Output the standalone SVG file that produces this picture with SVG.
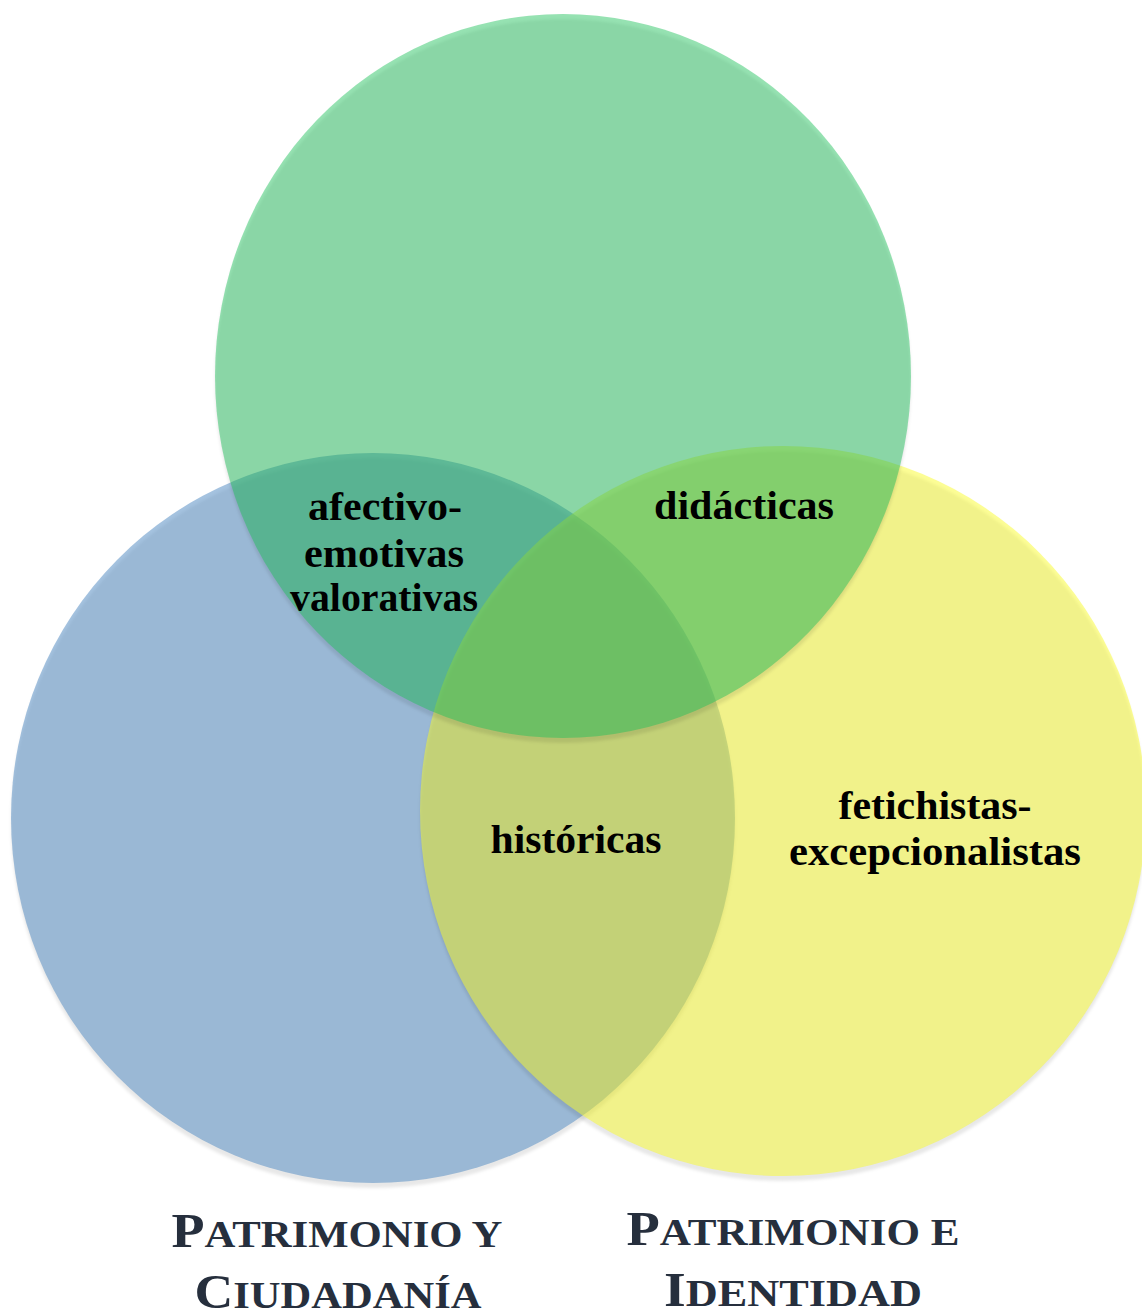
<svg xmlns="http://www.w3.org/2000/svg" width="1142" height="1311" viewBox="0 0 1142 1311">
  <defs>
    <filter id="soft" x="-5%" y="-5%" width="110%" height="110%">
      <feGaussianBlur stdDeviation="1.5"/>
    </filter>
    <style>
      .shadow { fill: #000; fill-opacity: 0.09; filter: url(#soft); }
      .blue   { fill: #5A8FC4; fill-opacity: 0.55; }
      .yellow { fill: #FAFC2C; fill-opacity: 0.5; }
      .green  { fill: #20C25B; fill-opacity: 0.47; }
      .lbl    { font-family: "Liberation Serif", "Times New Roman", serif; font-weight: bold; font-size: 40px; fill: #000; text-anchor: middle; }
      .title  { font-family: "Liberation Serif", "Times New Roman", serif; font-weight: bold; fill: #262F3D; text-anchor: middle; }
      .big    { font-size: 48px; }
      .small  { font-size: 38px; }
    </style>
  </defs>

  <!-- Patrimonio y Ciudadanía -->
  <g id="circle-ciudadania">
    <ellipse class="shadow" cx="373" cy="823" rx="362" ry="365"/>
    <ellipse class="blue" cx="373" cy="818" rx="362" ry="365"/>
  </g>

  <!-- Patrimonio e Identidad -->
  <g id="circle-identidad">
    <ellipse class="shadow" cx="783" cy="816" rx="363" ry="365"/>
    <ellipse class="yellow" cx="783" cy="811" rx="363" ry="365"/>
  </g>

  <!-- Top set -->
  <g id="circle-top">
    <ellipse class="shadow" cx="563" cy="381" rx="348" ry="362"/>
    <ellipse class="green" cx="563" cy="376" rx="348" ry="362"/>
  </g>

  <g id="connectors"></g>

  <!-- Region labels -->
  <g id="label-afectivo">
    <text class="lbl" x="385" y="520" textLength="154" lengthAdjust="spacingAndGlyphs">afectivo-</text>
    <text class="lbl" x="384" y="567" textLength="160" lengthAdjust="spacingAndGlyphs">emotivas</text>
    <text class="lbl" x="384" y="611" textLength="188" lengthAdjust="spacingAndGlyphs">valorativas</text>
  </g>
  <g id="label-didacticas">
    <text class="lbl" x="744" y="519" textLength="180" lengthAdjust="spacingAndGlyphs">didácticas</text>
  </g>
  <g id="label-historicas">
    <text class="lbl" x="576" y="853" textLength="171" lengthAdjust="spacingAndGlyphs">históricas</text>
  </g>
  <g id="label-fetichistas">
    <text class="lbl" x="935" y="819" textLength="193" lengthAdjust="spacingAndGlyphs">fetichistas-</text>
    <text class="lbl" x="935" y="865" textLength="292" lengthAdjust="spacingAndGlyphs">excepcionalistas</text>
  </g>

  <!-- Set titles -->
  <g id="title-ciudadania">
    <text class="title" x="337" y="1247" textLength="331" lengthAdjust="spacingAndGlyphs"><tspan class="big">P</tspan><tspan class="small">ATRIMONIO Y</tspan></text>
    <text class="title" x="338" y="1308" textLength="287" lengthAdjust="spacingAndGlyphs"><tspan class="big">C</tspan><tspan class="small">IUDADANÍA</tspan></text>
  </g>
  <g id="title-identidad">
    <text class="title" x="793" y="1245" textLength="333" lengthAdjust="spacingAndGlyphs"><tspan class="big">P</tspan><tspan class="small">ATRIMONIO E</tspan></text>
    <text class="title" x="793" y="1306" textLength="258" lengthAdjust="spacingAndGlyphs"><tspan class="big">I</tspan><tspan class="small">DENTIDAD</tspan></text>
  </g>
</svg>
